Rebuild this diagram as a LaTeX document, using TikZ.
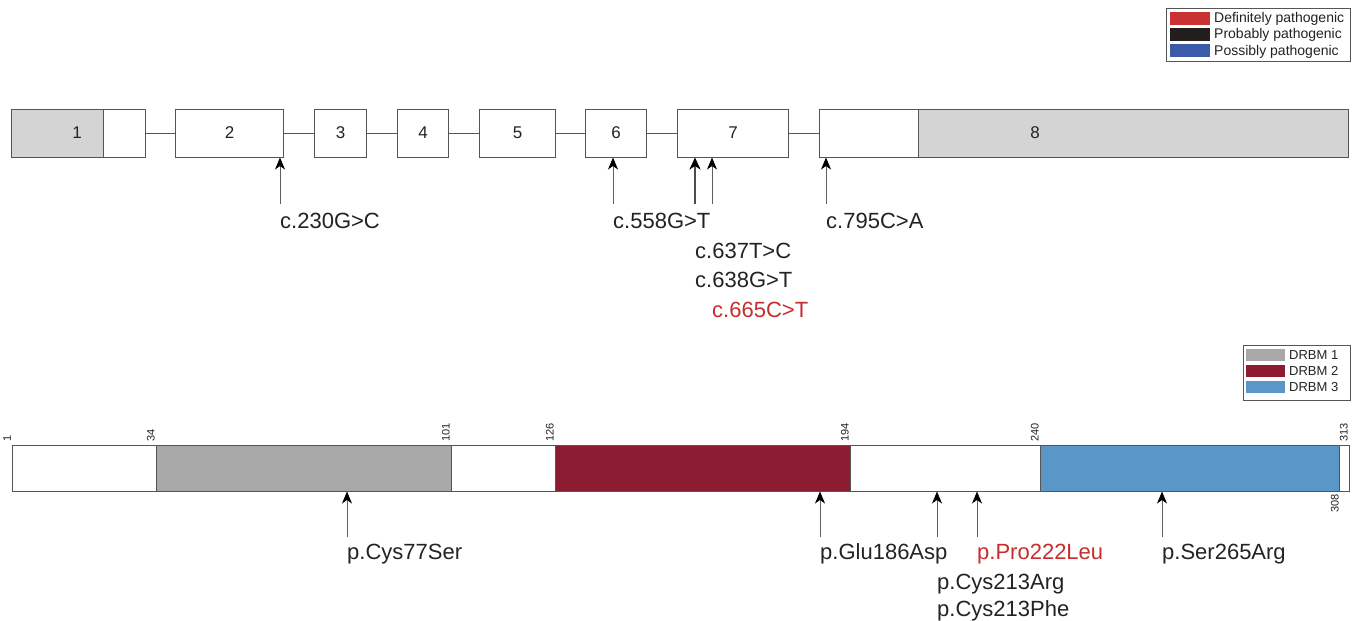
\documentclass[tikz,border=0pt]{standalone}
\usepackage{fontspec}
\setmainfont{Liberation Sans}
\usetikzlibrary{arrows.meta}
\definecolor{txt}{RGB}{35,35,35}
\definecolor{boxline}{RGB}{85,85,85}
\definecolor{shaft}{RGB}{95,95,95}
\definecolor{exgrey}{RGB}{212,212,212}
\definecolor{redt}{RGB}{200,45,45}
\definecolor{defp}{RGB}{200,50,50}
\definecolor{probp}{RGB}{35,30,30}
\definecolor{possp}{RGB}{60,90,170}
\definecolor{drbmA}{RGB}{168,168,168}
\definecolor{drbmB}{RGB}{140,28,50}
\definecolor{drbmC}{RGB}{90,150,200}
\begin{document}
\begin{tikzpicture}[x=1pt,y=-1pt,
  exon/.style={draw=boxline, line width=1pt, fill=white, minimum height=48pt, inner sep=0pt, anchor=west, font=\fontsize{17}{20}\selectfont, text=txt},
  intron/.style={draw=boxline, line width=0.9pt},
  mut/.style={draw=shaft, line width=1pt, -{Stealth[length=12pt,width=10pt,inset=3.5pt,color=black]}},
  mutthick/.style={draw=black!70, line width=2pt, -{Stealth[length=12pt,width=11pt,inset=3.5pt,color=black]}},
  lab/.style={font=\fontsize{22}{26}\selectfont, text=txt, inner sep=0pt, anchor=base west},
  labred/.style={lab, text=redt},
  num/.style={font=\fontsize{11}{13}\selectfont, text=txt, inner sep=0pt, rotate=90},
  legtxt/.style={font=\fontsize{14}{16}\selectfont, text=txt, inner sep=0pt, anchor=west},
  frame/.style={draw=boxline, line width=0.8pt, fill=white},
  seg/.style args={#1 from #2 to #3}{%
    \fill[#1] ([xshift=#2pt]path picture bounding box.north west) rectangle ([xshift=#3pt]path picture bounding box.south west);}
]
\useasboundingbox[fill=white] (0,0) rectangle (1360,621);

% ---------- gene structure ----------
\node[exon, minimum width=134pt,
  path picture={\fill[exgrey] (path picture bounding box.north west) rectangle ([xshift=92pt]path picture bounding box.south west);
                \draw[boxline, line width=1pt] ([xshift=92pt]path picture bounding box.north west) -- ([xshift=92pt]path picture bounding box.south west);}] (ex1) at (11,133) {};
\node[font=\fontsize{17}{20}\selectfont, text=txt] (ex1lab) at (77,133) {1};
\node[exon, minimum width=108pt] (ex2) at (175,133) {2};
\node[exon, minimum width=52pt] (ex3) at (314,133) {3};
\node[exon, minimum width=51pt] (ex4) at (397,133) {4};
\node[exon, minimum width=76pt] (ex5) at (479,133) {5};
\node[exon, minimum width=61pt] (ex6) at (585,133) {6};
\node[exon, minimum width=111pt] (ex7) at (677,133) {7};
\node[exon, minimum width=529pt,
  path picture={\fill[exgrey] ([xshift=99pt]path picture bounding box.north west) rectangle (path picture bounding box.south east);
                \draw[boxline, line width=1pt] ([xshift=99pt]path picture bounding box.north west) -- ([xshift=99pt]path picture bounding box.south west);}] (ex8) at (819,133) {};
\node[font=\fontsize{17}{20}\selectfont, text=txt] (ex8lab) at (1035,133) {8};

\draw[intron] (ex1.east) -- (ex2.west);
\draw[intron] (ex2.east) -- (ex3.west);
\draw[intron] (ex3.east) -- (ex4.west);
\draw[intron] (ex4.east) -- (ex5.west);
\draw[intron] (ex5.east) -- (ex6.west);
\draw[intron] (ex6.east) -- (ex7.west);
\draw[intron] (ex7.east) -- (ex8.west);

% mutations (cDNA)
\coordinate (m1) at (280,204);
\coordinate (m2) at (613,204);
\coordinate (m3) at (695,204);
\coordinate (m4) at (712,204);
\coordinate (m5) at (826,204);
\draw[mut] (m1) -- (m1 |- ex2.south);
\draw[mut] (m2) -- (m2 |- ex6.south);
\draw[mutthick] (m3) -- (m3 |- ex7.south);
\draw[mut] (m4) -- (m4 |- ex7.south);
\draw[mut] (m5) -- (m5 |- ex8.south);

\node[lab] (c1) at (280,228) {c.230G>C};
\node[lab] (c2) at (613,228) {c.558G>T};
\node[lab] (c3) at (695,258) {c.637T>C};
\node[lab] (c4) at (695,287) {c.638G>T};
\node[labred] (c5) at (712,317) {c.665C>T};
\node[lab] (c6) at (826,228) {c.795C>A};

% legend 1
\node[frame, minimum width=184pt, minimum height=53pt, inner sep=0pt, anchor=north west] (leg1) at (1166,8) {};
\fill[defp] (1170,12) rectangle (1210,25);
\fill[probp] (1170,28) rectangle (1210,41);
\fill[possp] (1170,44) rectangle (1210,57);
\node[legtxt] (lg1) at (1214,18.5) {Definitely pathogenic};
\node[legtxt] (lg2) at (1214,35) {Probably pathogenic};
\node[legtxt] (lg3) at (1214,51.5) {Possibly pathogenic};

% ---------- protein ----------
\node[draw=boxline, line width=1pt, fill=white, minimum width=1337pt, minimum height=46pt, inner sep=0pt, anchor=west,
  path picture={
    \fill[drbmA] ([xshift=144pt]path picture bounding box.north west) rectangle ([xshift=439pt]path picture bounding box.south west);
    \fill[drbmB] ([xshift=543pt]path picture bounding box.north west) rectangle ([xshift=838pt]path picture bounding box.south west);
    \fill[drbmC] ([xshift=1028pt]path picture bounding box.north west) rectangle ([xshift=1327pt]path picture bounding box.south west);
    \foreach \xx in {144,439,543,838,1028,1327}
      \draw[boxline, line width=1pt] ([xshift=\xx pt]path picture bounding box.north west) -- ([xshift=\xx pt]path picture bounding box.south west);
  }] (bar) at (12,468) {};

\node[num, anchor=south west] (n1) at (11,442) {1};
\node[num, anchor=south west] (n34) at (155,442) {34};
\node[num, anchor=south west] (n101) at (450,442) {101};
\node[num, anchor=south west] (n126) at (554,442) {126};
\node[num, anchor=south west] (n194) at (849,442) {194};
\node[num, anchor=south west] (n240) at (1039,442) {240};
\node[num, anchor=south west] (n313) at (1348,442) {313};
\node[num, anchor=south east] (n308) at (1339,494) {308};

\coordinate (p1) at (347,537);
\coordinate (p2) at (820,537);
\coordinate (p3) at (937,537);
\coordinate (p4) at (977,537);
\coordinate (p5) at (1162,537);
\draw[mut] (p1) -- (p1 |- bar.south);
\draw[mut] (p2) -- (p2 |- bar.south);
\draw[mut] (p3) -- (p3 |- bar.south);
\draw[mut] (p4) -- (p4 |- bar.south);
\draw[mut] (p5) -- (p5 |- bar.south);

\node[lab] (q1) at (347,559) {p.Cys77Ser};
\node[lab] (q2) at (820,559) {p.Glu186Asp};
\node[labred] (q3) at (977,559) {p.Pro222Leu};
\node[lab] (q4) at (937,589) {p.Cys213Arg};
\node[lab] (q5) at (937,616) {p.Cys213Phe};
\node[lab] (q6) at (1162,559) {p.Ser265Arg};

% legend 2
\node[frame, minimum width=107pt, minimum height=55pt, inner sep=0pt, anchor=north west] (leg2) at (1243,345) {};
\fill[drbmA] (1246,349) rectangle (1285,361);
\fill[drbmB] (1246,365) rectangle (1285,377);
\fill[drbmC] (1246,381) rectangle (1285,393);
\node[legtxt, font=\fontsize{13}{15}\selectfont] (dl1) at (1289,355) {DRBM 1};
\node[legtxt, font=\fontsize{13}{15}\selectfont] (dl2) at (1289,371) {DRBM 2};
\node[legtxt, font=\fontsize{13}{15}\selectfont] (dl3) at (1289,387) {DRBM 3};
\end{tikzpicture}
\end{document}
